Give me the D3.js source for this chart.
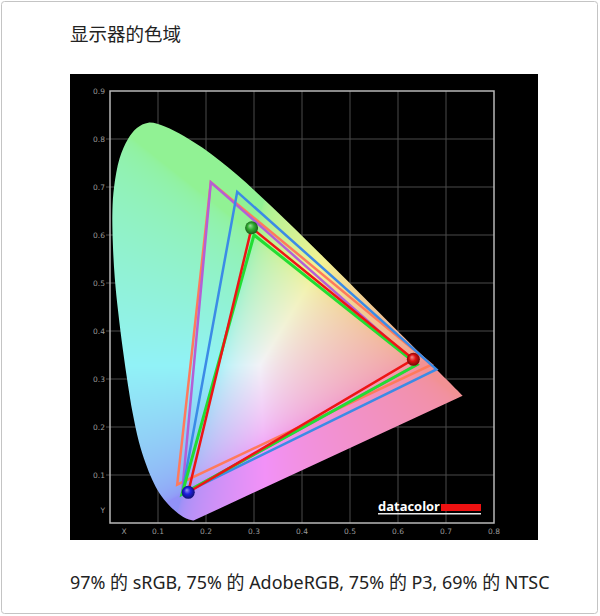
<!DOCTYPE html>
<html><head><meta charset="utf-8">
<script src="https://cdn.jsdelivr.net/npm/d3@7"></script>
<style>body{margin:0;background:#fff;overflow:hidden}</style>
</head><body><svg id="chart" width="600" height="616"></svg>
<script>
// spectral locus outline as drawn (chromaticity x, y)
const locusX = [0.1741,0.1600,0.1420,0.1220,0.1030,0.0880,0.0740,0.0600,0.0470,0.0370,0.0270,0.0170,0.0100,0.0060,0.0050,0.0085,0.0200,0.0375,0.0560,0.0800,0.1142,0.1547,0.1929,0.2296,0.2658,0.3016,0.3373,0.3731,0.4087,0.4441,0.4788,0.5125,0.5448,0.5752,0.6029,0.6270,0.6482,0.6658,0.6801,0.6915,0.7006,0.7079,0.7140,0.7190,0.7230,0.7260,0.7300,0.7347];
const locusY = [0.0050,0.0090,0.0200,0.0380,0.0620,0.0900,0.1250,0.1700,0.2300,0.2900,0.3600,0.4400,0.5100,0.5800,0.6500,0.7000,0.7600,0.8000,0.8230,0.8340,0.8262,0.8059,0.7816,0.7543,0.7243,0.6923,0.6589,0.6245,0.5896,0.5547,0.5202,0.4866,0.4544,0.4242,0.3965,0.3725,0.3514,0.3340,0.3197,0.3083,0.2993,0.2920,0.2859,0.2809,0.2770,0.2740,0.2700,0.2653];

const xTicks = [0.1,0.2,0.3,0.4,0.5,0.6,0.7,0.8];
const yTicks = [0.1,0.2,0.3,0.4,0.5,0.6,0.7,0.8,0.9];
const xTickLabels = ["0.1","0.2","0.3","0.4","0.5","0.6","0.7","0.8"];
const yTickLabels = ["0.1","0.2","0.3","0.4","0.5","0.6","0.7","0.8","0.9"];

// gamut triangles: [red, green, blue] primaries
const gamutNTSC = [[0.67,0.33],[0.21,0.71],[0.14,0.08]];
const gamutAdobeRGB = [[0.64,0.33],[0.21,0.71],[0.15,0.06]];
const gamutP3 = [[0.68,0.32],[0.265,0.69],[0.15,0.06]];
const gamutSRGB = [[0.64,0.33],[0.30,0.60],[0.15,0.06]];
const gamutDisplay = [[0.632,0.341],[0.295,0.615],[0.163,0.064]];

const gamutColors = ["#ff7a5c","#b45fd6","#3b8be6","#22dd33","#ee1515"];
const sphereColors = ["#e01010","#30b030","#2020e0"];

const title = "显示器的色域";
const caption = "97% 的 sRGB, 75% 的 AdobeRGB, 75% 的 P3, 69% 的 NTSC";

const svg = d3.select("#chart");
const x = d3.scaleLinear().domain([0,0.8]).range([110,494]);
const y = d3.scaleLinear().domain([0,0.9]).range([523,91]);

// page frame
svg.append("rect").attr("x",1.5).attr("y",1.5).attr("width",596).attr("height",612)
  .attr("rx",3).attr("fill","#fff").attr("stroke","#c4c4c4").attr("stroke-width",1);

svg.append("text").attr("x",70).attr("y",41).text(title)
  .attr("font-family","'Noto Sans CJK SC'").attr("font-size",18.5).attr("fill","#222");

// black panel
svg.append("rect").attr("x",70).attr("y",74).attr("width",468).attr("height",466).attr("fill","#000");

// grid
const g = svg.append("g");
g.selectAll(".gx").data(xTicks.slice(0,-1)).join("line")
  .attr("x1",d=>x(d)).attr("x2",d=>x(d)).attr("y1",y(0.9)).attr("y2",y(0))
  .attr("stroke","#4a4a4a").attr("stroke-width",1);
g.selectAll(".gy").data(yTicks.slice(0,-1)).join("line")
  .attr("x1",x(0)-4).attr("x2",x(0.8)).attr("y1",d=>y(d)).attr("y2",d=>y(d))
  .attr("stroke","#4a4a4a").attr("stroke-width",1);

// chromaticity fill via canvas -> image
const locusPts = locusX.map((v,i)=>[v,locusY[i]]);
const W = 384, H = 432;
const cv = document.createElement("canvas"); cv.width=W; cv.height=H;
const ctx = cv.getContext("2d");
const img = ctx.createImageData(W,H);
function gam(c){ c=Math.max(0,Math.min(1,c)); return c<=0.0031308?12.92*c:1.055*Math.pow(c,1/2.4)-0.055; }
for(let py=0;py<H;py++){
  for(let px=0;px<W;px++){
    const cx = x.invert(110+px+0.5), cy = Math.max(0.002, y.invert(91+py+0.5));
    const X = cx/cy, Y = 1, Z = Math.max(0,(1-cx-cy))/cy;
    let r = 3.2406*X-1.5372*Y-0.4986*Z, gg = -0.9689*X+1.8758*Y+0.0415*Z, b = 0.0557*X-0.2040*Y+1.0570*Z;
    r=Math.max(0,r); gg=Math.max(0,gg); b=Math.max(0,b);
    const M = Math.max(r,gg,b)||1; r/=M; gg/=M; b/=M;
    const k = (py*W+px)*4;
    img.data[k]   = 255*0.95*(0.4*gam(r)+0.6);
    img.data[k+1] = 255*0.95*(0.4*gam(gg)+0.6);
    img.data[k+2] = 255*0.97*(0.4*gam(b)+0.6);
    img.data[k+3] = 255;
  }
}
ctx.putImageData(img,0,0);
const line = d3.line().x(d=>x(d[0])).y(d=>y(d[1]));
const locusLine = d3.line().x(d=>x(d[0])).y(d=>y(d[1])).curve(d3.curveCatmullRom.alpha(0.5));
svg.append("clipPath").attr("id","locus").append("path").attr("d", locusLine(locusPts)+"Z");
svg.append("image").attr("href", cv.toDataURL()).attr("x",110).attr("y",91)
  .attr("width",W).attr("height",H).attr("clip-path","url(#locus)");

// frame
svg.append("rect").attr("x",x(0)).attr("y",y(0.9)).attr("width",x(0.8)-x(0)).attr("height",y(0)-y(0.9))
  .attr("fill","none").attr("stroke","#b8b8b8").attr("stroke-width",1.5);

// tick labels
const tf = "'DejaVu Sans', sans-serif";
svg.selectAll(".tx").data(xTicks).join("text")
  .attr("x",d=>x(d)).attr("y",534).attr("text-anchor","middle").text((d,i)=>xTickLabels[i])
  .attr("font-family",tf).attr("font-size",7.5).attr("fill","#9a9a9a");
svg.selectAll(".ty").data(yTicks).join("text")
  .attr("x",105).attr("y",d=>y(d)+2.7).attr("text-anchor","end").text((d,i)=>yTickLabels[i])
  .attr("font-family",tf).attr("font-size",7.5).attr("fill","#9a9a9a");
svg.append("text").attr("x",124).attr("y",534).attr("text-anchor","middle").text("X")
  .attr("font-family",tf).attr("font-size",7.5).attr("fill","#9a9a9a");
svg.append("text").attr("x",105).attr("y",513).attr("text-anchor","end").text("Y")
  .attr("font-family",tf).attr("font-size",7.5).attr("fill","#9a9a9a");

// gamut triangles
[gamutNTSC,gamutAdobeRGB,gamutP3,gamutSRGB,gamutDisplay].forEach((tri,i)=>{
  svg.append("path").attr("d", line(tri)+"Z").attr("fill","none")
    .attr("stroke",gamutColors[i]).attr("stroke-width", i===3?3:2.5).attr("stroke-linejoin","miter");
});

// spheres
const defs = svg.append("defs");
sphereColors.forEach((c,i)=>{
  const rg = defs.append("radialGradient").attr("id","sph"+i).attr("cx","50%").attr("cy","50%").attr("r","55%").attr("fx","38%").attr("fy","32%");
  rg.append("stop").attr("offset","0%").attr("stop-color", d3.interpolateRgb(c,"#fff")(0.55));
  rg.append("stop").attr("offset","45%").attr("stop-color", c);
  rg.append("stop").attr("offset","100%").attr("stop-color", d3.interpolateRgb(c,"#000")(0.55));
});
const sphereOrder = [0,1,2];
svg.selectAll(".sph").data(sphereOrder).join("circle")
  .attr("cx",d=>x(gamutDisplay[d][0])).attr("cy",d=>y(gamutDisplay[d][1])).attr("r",6.5)
  .attr("fill",d=>"url(#sph"+d+")");

// datacolor logo
svg.append("text").attr("x",378).attr("y",511).text("datacolor")
  .attr("font-family","'Open Sans', sans-serif").attr("font-weight","bold").attr("font-size",13)
  .attr("textLength",62).attr("lengthAdjust","spacingAndGlyphs").attr("fill","#fff");
svg.append("rect").attr("x",441).attr("y",504).attr("width",40).attr("height",7).attr("fill","#ee1111");
svg.append("rect").attr("x",378).attr("y",513).attr("width",103).attr("height",1.5).attr("fill","#e8e8e8");

// caption
const cap = svg.append("text").attr("x",70).attr("y",589).text(caption)
  .attr("font-family","'Noto Sans', 'Noto Sans CJK SC', sans-serif").attr("font-size",18).attr("fill","#222");
const w = cap.node().getComputedTextLength();
cap.attr("font-size", 18*480/w);
</script></body></html>
